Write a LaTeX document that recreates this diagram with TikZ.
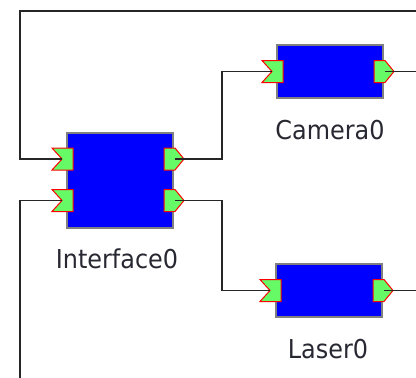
\documentclass[tikz,border=0pt]{standalone}
\usepackage{fontspec}
\newfontfamily\labfont[FakeStretch=0.92]{DejaVu Sans}
\definecolor{portgreen}{RGB}{102,250,102}
\definecolor{boxblue}{RGB}{0,0,255}
\definecolor{boxgray}{RGB}{128,128,128}
\definecolor{labcol}{RGB}{40,40,50}
\begin{document}
\begin{tikzpicture}[x=1pt,y=-1pt,
  comp/.style={draw=boxgray,fill=boxblue,line width=1.5pt,inner sep=0pt,minimum width=106pt},
  lab/.style={anchor=base,font=\labfont\fontsize{26}{30}\selectfont,text=labcol,inner sep=0pt},
  portst/.style={draw=red,fill=portgreen,line width=1pt,line join=miter},
  wire/.style={draw=black!85,line width=1.5pt}]
\useasboundingbox (0,0) rectangle (416,378);

% components
\node[comp,minimum height=95pt] (iface) at (120,180.5) {};
\node[comp,minimum height=53pt] (cam) at (330,71.5) {};
\node[comp,minimum height=53pt] (las) at (329,290.5) {};

% labels
\node[lab] (ifacelab) at (117,268) {Interface0};
\node[lab] (camlab) at (330,139) {Camera0};
\node[lab] (laslab) at (328,358) {Laser0};

% port anchors
\coordinate (i1in) at (62,159);
\coordinate (i2in) at (62,200.5);
\coordinate (i1out) at (175,159);
\coordinate (i2out) at (175,200.5);
\coordinate (camin) at (272,71.5);
\coordinate (camout) at (385,71.5);
\coordinate (lasin) at (270,290.5);
\coordinate (lasout) at (384,290.5);

% free ends
\coordinate (tl) at (20,11);
\coordinate (tr) at (416,11);
\coordinate (bl) at (20,378);
\coordinate (camend) at (416,71.5);
\coordinate (lasend) at (416,290.5);

% input ports
\foreach \p in {i1in,i2in,camin,lasin}{
  \path[portst] (\p) ++(-10,-11) -- ++(21,0) -- ++(0,22) -- ++(-21,0) -- (\p) -- cycle;
}
% output ports
\foreach \p in {i1out,i2out,camout,lasout}{
  \path[portst] (\p) ++(-11,-11) -- ++(11,0) -- ++(9,11) -- ++(-9,11) -- ++(-11,0) -- cycle;
}

% connectors
\draw[wire] (tr) -- (tl) |- (i1in);
\draw[wire] (i2in) -| (bl);
\draw[wire] (i1out) -- ++(47,0) |- (camin);
\draw[wire] (i2out) -- ++(47,0) |- (lasin);
\draw[wire] (camout) -- (camend);
\draw[wire] (lasout) -- (lasend);
\end{tikzpicture}
\end{document}
